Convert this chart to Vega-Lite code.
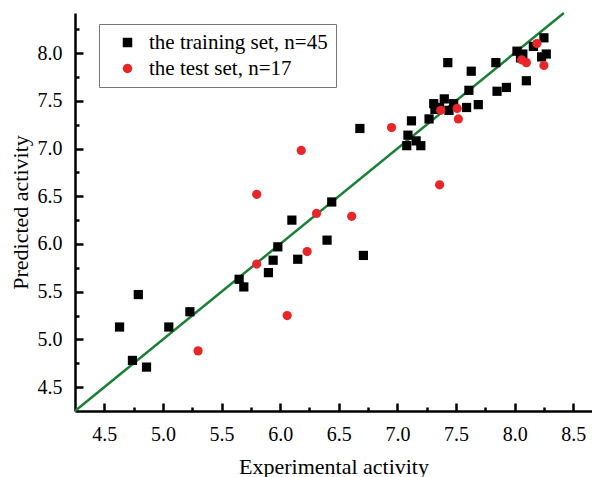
{
  "$schema": "https://vega.github.io/schema/vega-lite/v6.json",
  "width": 517,
  "height": 398,
  "autosize": {"type": "none"},
  "padding": {"left": 75, "top": 13, "right": 0, "bottom": 66},
  "background": "white",
  "config": {
    "view": {"stroke": null},
    "font": "Liberation Serif",
    "axis": {
      "labelFont": "Liberation Serif",
      "titleFont": "Liberation Serif",
      "labelFontSize": 20,
      "titleFontSize": 22,
      "titleFontWeight": "normal",
      "labelColor": "#000",
      "titleColor": "#000",
      "domainColor": "#000",
      "domainWidth": 2.5,
      "tickColor": "#000",
      "tickWidth": 2.5,
      "grid": false
    }
  },
  "datasets": {
    "pts": [
      {"exp": 4.63, "pred": 5.13, "set": "the training set, n=45"},
      {"exp": 4.79, "pred": 5.47, "set": "the training set, n=45"},
      {"exp": 4.74, "pred": 4.78, "set": "the training set, n=45"},
      {"exp": 4.86, "pred": 4.71, "set": "the training set, n=45"},
      {"exp": 5.05, "pred": 5.13, "set": "the training set, n=45"},
      {"exp": 5.23, "pred": 5.29, "set": "the training set, n=45"},
      {"exp": 5.65, "pred": 5.63, "set": "the training set, n=45"},
      {"exp": 5.69, "pred": 5.55, "set": "the training set, n=45"},
      {"exp": 5.90, "pred": 5.70, "set": "the training set, n=45"},
      {"exp": 5.94, "pred": 5.83, "set": "the training set, n=45"},
      {"exp": 5.98, "pred": 5.97, "set": "the training set, n=45"},
      {"exp": 6.15, "pred": 5.84, "set": "the training set, n=45"},
      {"exp": 6.40, "pred": 6.04, "set": "the training set, n=45"},
      {"exp": 6.71, "pred": 5.88, "set": "the training set, n=45"},
      {"exp": 6.10, "pred": 6.25, "set": "the training set, n=45"},
      {"exp": 6.44, "pred": 6.44, "set": "the training set, n=45"},
      {"exp": 6.68, "pred": 7.21, "set": "the training set, n=45"},
      {"exp": 7.43, "pred": 7.90, "set": "the training set, n=45"},
      {"exp": 7.63, "pred": 7.81, "set": "the training set, n=45"},
      {"exp": 7.84, "pred": 7.90, "set": "the training set, n=45"},
      {"exp": 8.02, "pred": 8.02, "set": "the training set, n=45"},
      {"exp": 8.07, "pred": 7.99, "set": "the training set, n=45"},
      {"exp": 8.16, "pred": 8.07, "set": "the training set, n=45"},
      {"exp": 8.25, "pred": 8.16, "set": "the training set, n=45"},
      {"exp": 8.23, "pred": 7.96, "set": "the training set, n=45"},
      {"exp": 8.27, "pred": 7.99, "set": "the training set, n=45"},
      {"exp": 8.10, "pred": 7.71, "set": "the training set, n=45"},
      {"exp": 7.85, "pred": 7.60, "set": "the training set, n=45"},
      {"exp": 7.93, "pred": 7.64, "set": "the training set, n=45"},
      {"exp": 7.61, "pred": 7.61, "set": "the training set, n=45"},
      {"exp": 7.69, "pred": 7.46, "set": "the training set, n=45"},
      {"exp": 7.59, "pred": 7.43, "set": "the training set, n=45"},
      {"exp": 7.40, "pred": 7.52, "set": "the training set, n=45"},
      {"exp": 7.31, "pred": 7.47, "set": "the training set, n=45"},
      {"exp": 7.32, "pred": 7.41, "set": "the training set, n=45"},
      {"exp": 7.48, "pred": 7.47, "set": "the training set, n=45"},
      {"exp": 7.44, "pred": 7.40, "set": "the training set, n=45"},
      {"exp": 7.27, "pred": 7.31, "set": "the training set, n=45"},
      {"exp": 7.12, "pred": 7.29, "set": "the training set, n=45"},
      {"exp": 7.09, "pred": 7.14, "set": "the training set, n=45"},
      {"exp": 7.08, "pred": 7.03, "set": "the training set, n=45"},
      {"exp": 7.16, "pred": 7.08, "set": "the training set, n=45"},
      {"exp": 7.20, "pred": 7.03, "set": "the training set, n=45"},
      {"exp": 7.36, "pred": 7.43, "set": "the training set, n=45"},
      {"exp": 8.05, "pred": 7.95, "set": "the training set, n=45"},
      {"exp": 5.30, "pred": 4.88, "set": "the test set, n=17"},
      {"exp": 5.80, "pred": 5.79, "set": "the test set, n=17"},
      {"exp": 6.06, "pred": 5.25, "set": "the test set, n=17"},
      {"exp": 6.23, "pred": 5.92, "set": "the test set, n=17"},
      {"exp": 6.18, "pred": 6.98, "set": "the test set, n=17"},
      {"exp": 5.80, "pred": 6.52, "set": "the test set, n=17"},
      {"exp": 6.31, "pred": 6.32, "set": "the test set, n=17"},
      {"exp": 6.61, "pred": 6.29, "set": "the test set, n=17"},
      {"exp": 7.36, "pred": 6.62, "set": "the test set, n=17"},
      {"exp": 6.95, "pred": 7.22, "set": "the test set, n=17"},
      {"exp": 7.37, "pred": 7.40, "set": "the test set, n=17"},
      {"exp": 7.51, "pred": 7.42, "set": "the test set, n=17"},
      {"exp": 7.52, "pred": 7.31, "set": "the test set, n=17"},
      {"exp": 8.06, "pred": 7.93, "set": "the test set, n=17"},
      {"exp": 8.10, "pred": 7.90, "set": "the test set, n=17"},
      {"exp": 8.19, "pred": 8.10, "set": "the test set, n=17"},
      {"exp": 8.25, "pred": 7.87, "set": "the test set, n=17"}
    ],
    "fit": [
      {"exp": 4.25, "pred": 4.25},
      {"exp": 8.42, "pred": 8.42}
    ]
  },
  "resolve": {"axis": {"x": "independent", "y": "independent"}},
  "layer": [
    {
      "data": {"name": "fit"},
      "mark": {"type": "line", "color": "#1a8038", "strokeWidth": 2.5},
      "encoding": {
        "x": {
          "field": "exp", "type": "quantitative",
          "scale": {"domain": [4.25, 8.66], "nice": false, "zero": false},
          "axis": {
            "orient": "bottom",
            "title": null,
            "values": [4.75, 5.25, 5.75, 6.25, 6.75, 7.25, 7.75, 8.25],
            "labels": false,
            "domain": false,
            "tickSize": -4
          }
        },
        "y": {
          "field": "pred", "type": "quantitative",
          "scale": {"domain": [4.25, 8.42], "nice": false, "zero": false},
          "axis": {
            "orient": "left",
            "title": null,
            "values": [4.75, 5.25, 5.75, 6.25, 6.75, 7.25, 7.75, 8.25],
            "labels": false,
            "domain": false,
            "tickSize": -4
          }
        }
      }
    },
    {
      "data": {"name": "pts"},
      "mark": {"type": "point", "filled": true, "opacity": 1, "size": 85},
      "encoding": {
        "x": {
          "field": "exp", "type": "quantitative",
          "axis": {
            "orient": "bottom",
            "title": "Experimental activity",
            "values": [4.5, 5.0, 5.5, 6.0, 6.5, 7.0, 7.5, 8.0, 8.5],
            "format": ".1f",
            "tickSize": -8,
            "labelPadding": 21,
            "titlePadding": 12
          }
        },
        "y": {
          "field": "pred", "type": "quantitative",
          "axis": {
            "orient": "left",
            "title": "Predicted activity",
            "values": [4.5, 5.0, 5.5, 6.0, 6.5, 7.0, 7.5, 8.0],
            "format": ".1f",
            "tickSize": -8,
            "labelPadding": 21,
            "titlePadding": 5
          }
        },
        "color": {
          "field": "set", "type": "nominal",
          "scale": {"domain": ["the training set, n=45", "the test set, n=17"], "range": ["#000000", "#e8262a"]},
          "legend": {
            "title": null,
            "orient": "none",
            "legendX": 24,
            "legendY": 11,
            "strokeColor": "#777",
            "padding": 8,
            "labelFont": "Liberation Serif",
            "labelFontSize": 21,
            "labelColor": "#000",
            "rowPadding": 4,
            "symbolSize": 90,
            "symbolOffset": 10,
            "labelOffset": 11,
            "labelLimit": 400
          }
        },
        "shape": {
          "field": "set", "type": "nominal",
          "scale": {"domain": ["the training set, n=45", "the test set, n=17"], "range": ["square", "circle"]},
          "legend": null
        }
      }
    }
  ]
}
